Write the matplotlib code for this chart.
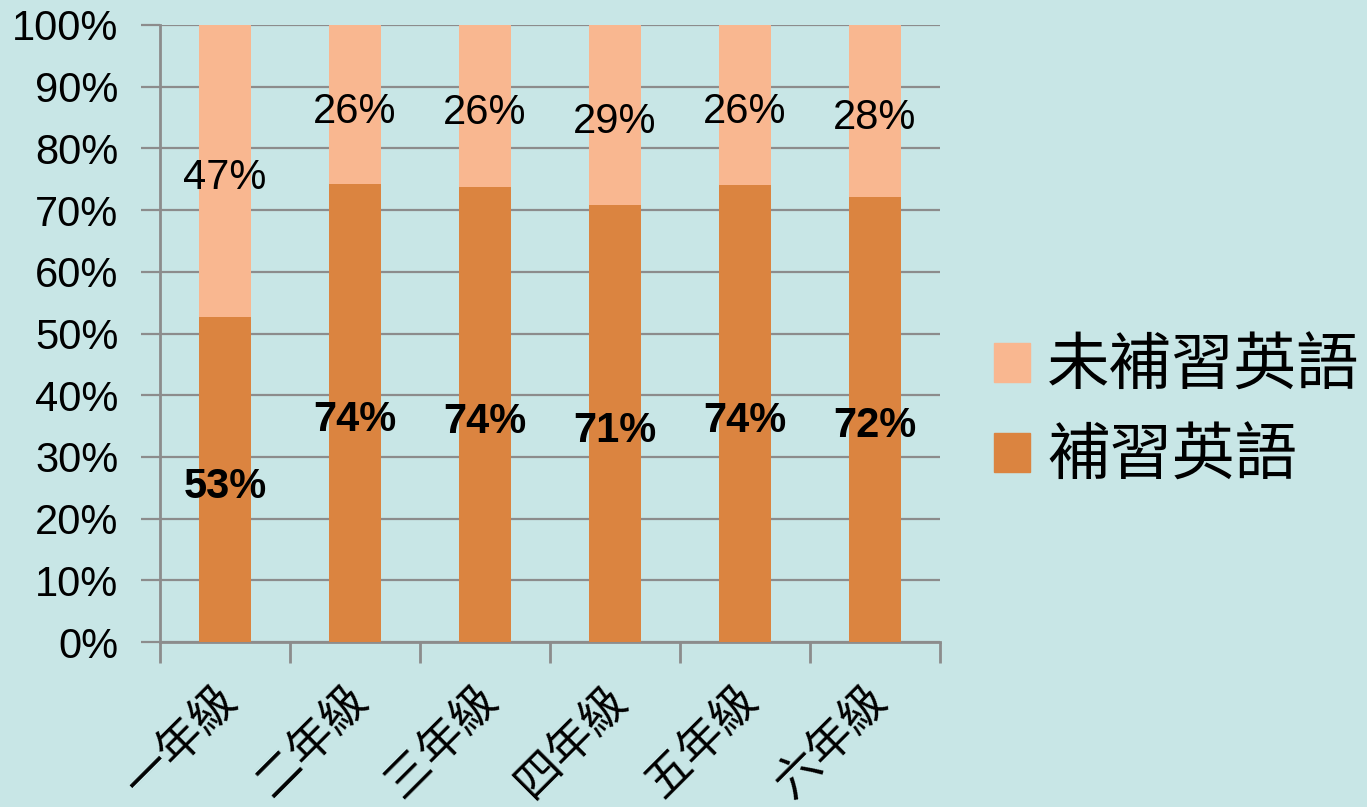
import matplotlib.pyplot as plt
import matplotlib.transforms as mtransforms
from matplotlib.ticker import FixedLocator
from matplotlib.patches import Patch

plt.rcParams['font.family'] = ['Liberation Sans', 'Noto Sans CJK TC', 'DejaVu Sans']

grades = ['一年級', '二年級', '三年級', '四年級', '五年級', '六年級']
tutored = [52.6, 74.2, 73.7, 70.8, 74.0, 72.2]        # 補習英語
not_tutored = [47.4, 25.8, 26.3, 29.2, 26.0, 27.8]    # 未補習英語
y_ticks = list(range(0, 101, 10))

bg = '#C8E6E6'
dark = '#DB8440'
light = '#F9B790'
grid_c = '#8C8C8C'

fig = plt.figure(figsize=(13.67, 8.07), dpi=100, facecolor=bg)
ax = fig.add_axes([160 / 1367, 165 / 807, 780 / 1367, 617 / 807])
ax.set_facecolor(bg)

x = list(range(len(grades)))
ax.bar(x, tutored, width=0.4, color=dark, zorder=3)
ax.bar(x, not_tutored, width=0.4, bottom=tutored, color=light, zorder=3)

for i in x:
    ax.annotate(f'{round(tutored[i])}%', (i, tutored[i] / 2), xytext=(0, -5),
                textcoords='offset points', ha='center', va='center',
                fontsize=30, fontweight='bold', zorder=4)
    ax.annotate(f'{round(not_tutored[i])}%', (i, tutored[i] + not_tutored[i] / 2),
                xytext=(0, -5), textcoords='offset points',
                ha='center', va='center', fontsize=30, zorder=4)

ax.set_xlim(-0.5, len(grades) - 0.5)
ax.set_ylim(0, 100)
ax.set_yticks(y_ticks)
ax.set_yticklabels([f'{v}%' for v in y_ticks], fontsize=30)
ax.yaxis.grid(True, color=grid_c, linewidth=1.6, zorder=0)

# category boundary ticks, labels at centers
ax.xaxis.set_major_locator(FixedLocator([i - 0.5 for i in range(len(grades) + 1)]))
ax.xaxis.set_minor_locator(FixedLocator(x))
ax.set_xticklabels([])
ax.set_xticklabels(grades, minor=True, rotation=45, ha='right', va='top',
                   rotation_mode='anchor', fontsize=33, family=['Noto Sans CJK TC'])
ax.tick_params(axis='x', which='major', length=15, width=2, color=grid_c)
ax.tick_params(axis='x', which='minor', length=0, pad=24)
ax.tick_params(axis='y', length=14, width=1.6, color=grid_c, pad=16)

shift = mtransforms.ScaledTranslation(-12 / 100, 0, fig.dpi_scale_trans)
for lbl in ax.get_xticklabels(minor=True):
    lbl.set_transform(lbl.get_transform() + shift)

for s in ['top', 'right']:
    ax.spines[s].set_visible(False)
for s in ['left', 'bottom']:
    ax.spines[s].set_color(grid_c)
    ax.spines[s].set_linewidth(2)

handles = [Patch(color=light, label='未補習英語'), Patch(color=dark, label='補習英語')]
fig.legend(handles=handles, loc='center left', bbox_to_anchor=(0.686, 0.49),
           frameon=False, handlelength=0.58, handleheight=0.58,
           labelspacing=0.42, handletextpad=0.27,
           prop={'family': ['Noto Sans CJK TC'], 'size': 45})

fig.savefig('out.png', dpi=100, facecolor=bg)
